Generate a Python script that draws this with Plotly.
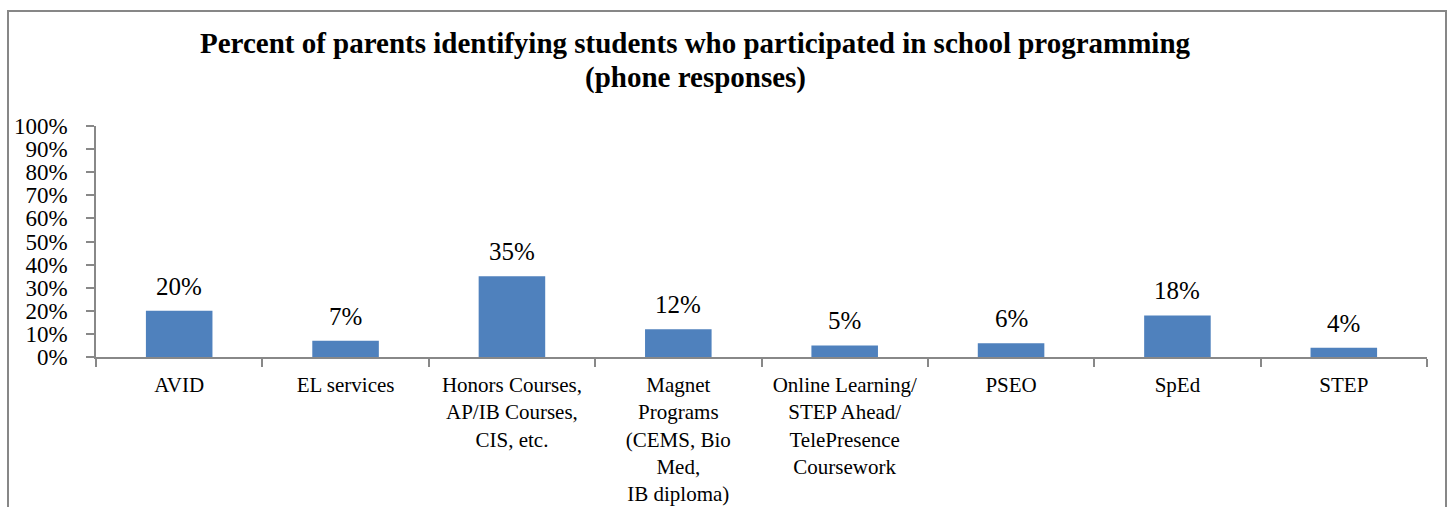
import plotly.graph_objects as go

categories = [
    "AVID",
    "EL services",
    "Honors Courses,<br>AP/IB Courses,<br>CIS, etc.",
    "Magnet<br>Programs<br>(CEMS, Bio<br>Med,<br>IB diploma)",
    "Online Learning/<br>STEP Ahead/<br>TelePresence<br>Coursework",
    "PSEO",
    "SpEd",
    "STEP",
]
values = [20, 7, 35, 12, 5, 6, 18, 4]
labels = [f"{v}%" for v in values]
tick_vals = list(range(0, 101, 10))
tick_text = [f"{v}%" for v in tick_vals]
title_line1 = "Percent of parents identifying students who participated in school programming"
title_line2 = "(phone responses)"

FONT = "Liberation Serif, Times New Roman, serif"
W, H = 1450, 507
L, R = 96, 1427
TOP, BOT = 126, 357


def px_x(x):
    return (x - L) / (R - L)


def px_y(y):
    return (BOT - y) / (BOT - TOP)


fig = go.Figure(
    go.Bar(
        x=categories,
        y=values,
        marker=dict(color="#4F81BD", line=dict(width=0)),
        width=0.4,
        hoverinfo="x+y",
    )
)

for c, v, t in zip(categories, values, labels):
    fig.add_annotation(
        x=c, y=v, text=t,
        xref="x", yref="y",
        xanchor="center", yanchor="bottom",
        yshift=9,
        showarrow=False,
        font=dict(family=FONT, size=25, color="black"),
    )

fig.update_layout(
    width=W,
    height=H,
    margin=dict(l=L, r=W - R, t=TOP, b=H - BOT, autoexpand=False),
    paper_bgcolor="white",
    plot_bgcolor="white",
    showlegend=False,
    font=dict(family=FONT, color="black"),
    bargap=0.6,
)

fig.update_yaxes(
    range=[0, 100],
    tickvals=tick_vals,
    ticktext=tick_text,
    tickfont=dict(family=FONT, size=23, color="black"),
    showgrid=False,
    zeroline=False,
    showline=True,
    linecolor="#888888",
    linewidth=1.5,
    ticks="outside",
    ticklen=8,
    tickcolor="#888888",
    tickwidth=1.5,
    ticklabelstandoff=14,
)

fig.update_xaxes(
    tickfont=dict(family=FONT, size=21, color="black"),
    showgrid=False,
    showline=True,
    linecolor="#888888",
    linewidth=1.5,
    ticks="outside",
    tickson="boundaries",
    ticklen=8,
    tickcolor="#888888",
    tickwidth=1.5,
    tickangle=0,
    ticklabelstandoff=8,
)

# chart border
fig.add_shape(
    type="rect",
    xref="paper", yref="paper",
    x0=px_x(8), x1=px_x(1446), y0=px_y(540), y1=px_y(11),
    line=dict(color="#878787", width=2),
    fillcolor="rgba(0,0,0,0)",
    layer="below",
)

fig.add_annotation(
    text=f"<b>{title_line1}</b>",
    xref="paper", yref="paper",
    x=px_x(695), y=px_y(43),
    xanchor="center", yanchor="middle",
    showarrow=False,
    font=dict(family=FONT, size=29, color="black"),
)
fig.add_annotation(
    text=f"<b>{title_line2}</b>",
    xref="paper", yref="paper",
    x=px_x(695), y=px_y(77),
    xanchor="center", yanchor="middle",
    showarrow=False,
    font=dict(family=FONT, size=29, color="black"),
)

fig.write_html(
    "out.html",
    config={"displayModeBar": False},
    post_script="document.body.style.margin='0';document.body.style.overflow='hidden';",
)
